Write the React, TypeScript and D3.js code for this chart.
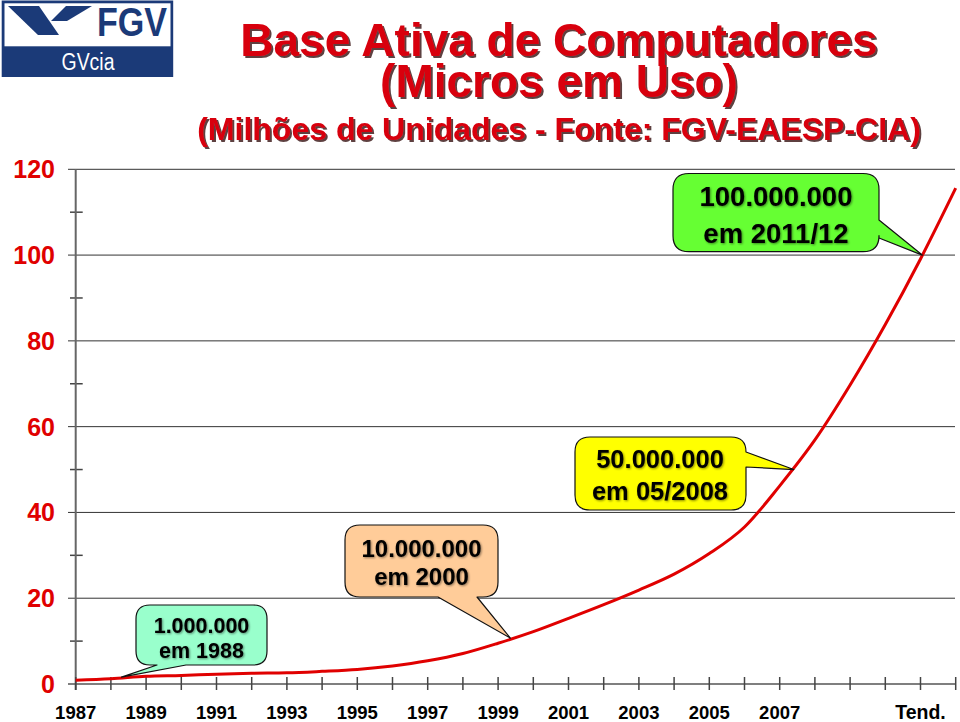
import React from "react";
import * as d3 from "d3";

const years = d3.range(1987, 2013);
const values = [0.9, 1.2, 1.8, 2.0, 2.3, 2.5, 2.6, 2.95, 3.4, 4.2, 5.4, 7.1, 9.5, 12.2, 15.3, 18.5, 21.9, 25.6, 30.4, 36.6, 46.2, 56.9, 69.7, 83.8, 99.1, 115.6];
const yMajorTicks = [0, 20, 40, 60, 80, 100, 120];
const yMinorTicks = [10, 30, 50, 70, 90, 110];
const xLabelYears = [1987, 1989, 1991, 1993, 1995, 1997, 1999, 2001, 2003, 2005, 2007];
const trendLabel = "Tend.";
const trendYear = 2011;

const titleLines = ["Base Ativa de Computadores", "(Micros em Uso)", "(Milhões de Unidades - Fonte: FGV-EAESP-CIA)"];

const calloutLines = [
  ["1.000.000", "em 1988"],
  ["10.000.000", "em 2000"],
  ["50.000.000", "em 05/2008"],
  ["100.000.000", "em 2011/12"],
];
const calloutAnchors = [
  { year: 1988.3, value: 1.6 },
  { year: 1999.35, value: 10.7 },
  { year: 2007.4, value: 50 },
  { year: 2011.05, value: 100 },
];

const x = d3.scaleLinear().domain([1987, 2012]).range([75.7, 955.7]);
const y = d3.scaleLinear().domain([0, 120]).range([684, 169.3]);

type Box = { x0: number; y0: number; x1: number; y1: number; r: number; side: "bottom" | "right"; a: number; b: number; fill: string; font: number; tx: number; base: [number, number] };

const boxes: Box[] = [
  { x0: 136, y0: 605, x1: 267, y1: 665, r: 14, side: "bottom", a: 157, b: 186, fill: "#99ffcc", font: 21.5, tx: 201.5, base: [633, 658] },
  { x0: 345, y0: 525, x1: 498, y1: 597, r: 15, side: "bottom", a: 438, b: 477, fill: "#ffcc99", font: 24, tx: 421.5, base: [556.5, 585] },
  { x0: 575, y0: 437, x1: 746, y1: 510, r: 15, side: "right", a: 452, b: 467, fill: "#ffff00", font: 25.5, tx: 660, base: [468, 500] },
  { x0: 673, y0: 173.5, x1: 879, y1: 251.7, r: 16, side: "right", a: 220, b: 238, fill: "#66ff33", font: 27.5, tx: 776, base: [206, 243] },
];

function calloutPath(bx: Box, tx: number, ty: number) {
  const { x0, y0, x1, y1, r, side, a, b } = bx;
  const p = d3.path();
  p.moveTo(x0 + r, y0);
  p.lineTo(x1 - r, y0);
  p.quadraticCurveTo(x1, y0, x1, y0 + r);
  if (side === "right") {
    p.lineTo(x1, a);
    p.lineTo(tx, ty);
    p.lineTo(x1, b);
  }
  p.lineTo(x1, y1 - r);
  p.quadraticCurveTo(x1, y1, x1 - r, y1);
  if (side === "bottom") {
    p.lineTo(b, y1);
    p.lineTo(tx, ty);
    p.lineTo(a, y1);
  }
  p.lineTo(x0 + r, y1);
  p.quadraticCurveTo(x0, y1, x0, y1 - r);
  p.lineTo(x0, y0 + r);
  p.quadraticCurveTo(x0, y0, x0 + r, y0);
  p.closePath();
  return p.toString();
}

const FONT = "'Liberation Sans', Arial, Helvetica, sans-serif";

export default function App() {
  const line = d3
    .line<number>()
    .x((_, i) => x(years[i]))
    .y((d) => y(d))
    .curve(d3.curveMonotoneX);

  const navy = "#1b3a78";
  const titleRed = "#d80010";
  const titleY = [56, 97, 140];
  const titleSize = [46, 46, 32];

  return (
    <svg width={960} height={722} style={{ position: "absolute", left: 0, top: 0, background: "#fff" }} fontFamily={FONT}>
      <defs>
        <filter id="titleShadow" x="-5%" y="-20%" width="110%" height="150%">
          <feDropShadow dx={2} dy={2} stdDeviation={0.6} floodColor="#2a0000" floodOpacity={0.75} />
        </filter>
        <filter id="textShadow" x="-5%" y="-20%" width="110%" height="150%">
          <feDropShadow dx={1} dy={1} stdDeviation={0.8} floodColor="#000" floodOpacity={0.45} />
        </filter>
      </defs>
      <rect x={0} y={0} width={960} height={722} fill="#fff" />
      {/* Logo */}
      <rect x={1.7} y={0.5} width={171.5} height={76.5} fill={navy} />
      <rect x={4.5} y={3.3} width={166} height={43} fill="#fff" />
      <polygon points="8,6 39,6 59,35 38,35" fill={navy} />
      <polygon points="66,6 92,6 67,21 51,21" fill={navy} />
      <text x={97} y={36} fontSize={40} fontWeight="bold" fill={navy} textLength={70} lengthAdjust="spacingAndGlyphs">FGV</text>
      <text x={88} y={70} fontSize={23} fill="#fff" textAnchor="middle" textLength={53} lengthAdjust="spacingAndGlyphs">GVcia</text>

      {/* Title */}
      <text fontWeight="bold" textAnchor="middle" fill={titleRed} filter="url(#titleShadow)">
        {titleLines.map((t, i) => (
          <tspan key={i} x={559} y={titleY[i]} fontSize={titleSize[i]}>{t}</tspan>
        ))}
      </text>

      {/* Gridlines */}
      {yMajorTicks.filter((v) => v > 0).map((v) => (
        <line key={v} x1={68} x2={955} y1={y(v)} y2={y(v)} stroke="#333" strokeWidth={1} />
      ))}
      {yMinorTicks.map((v) => (
        <line key={v} x1={70} x2={82.7} y1={y(v)} y2={y(v)} stroke="#444" strokeWidth={1.5} />
      ))}
      {/* Y axis */}
      <line x1={x(1987)} x2={x(1987)} y1={y(120)} y2={690} stroke="#666" strokeWidth={2} />
      {/* X axis */}
      <line x1={68} x2={955.7} y1={y(0)} y2={y(0)} stroke="#555" strokeWidth={1.5} />
      {years.map((yr) => (
        <line key={yr} x1={x(yr)} x2={x(yr)} y1={677} y2={690} stroke="#444" strokeWidth={1.5} />
      ))}

      {/* Y labels */}
      {yMajorTicks.map((v) => (
        <text key={v} x={55} y={y(v) + 9} textAnchor="end" fontSize={25} fontWeight="bold" fill="#e00000">{v}</text>
      ))}
      {/* X labels */}
      {xLabelYears.map((yr) => (
        <text key={yr} x={x(yr)} y={719} textAnchor="middle" fontSize={18.5} fontWeight="bold" fill="#000">{yr}</text>
      ))}
      <text x={x(trendYear)} y={719} textAnchor="middle" fontSize={19.5} fontWeight="bold" fill="#000">{trendLabel}</text>

      {/* Data line */}
      <path d={line(values) || ""} fill="none" stroke="#e00000" strokeWidth={3} />

      {/* Callouts */}
      {boxes.map((bx, i) => {
        const tx = x(calloutAnchors[i].year);
        const ty = y(calloutAnchors[i].value);
        return (
          <g key={i}>
            <path d={calloutPath(bx, tx, ty)} fill={bx.fill} stroke="#111" strokeWidth={1.2} strokeLinejoin="round" />
            {calloutLines[i].map((t, j) => (
              <text key={j} x={bx.tx} y={bx.base[j]} fontSize={bx.font} fontWeight="bold" textAnchor="middle" fill="#000" filter="url(#textShadow)">{t}</text>
            ))}
          </g>
        );
      })}
    </svg>
  );
}
